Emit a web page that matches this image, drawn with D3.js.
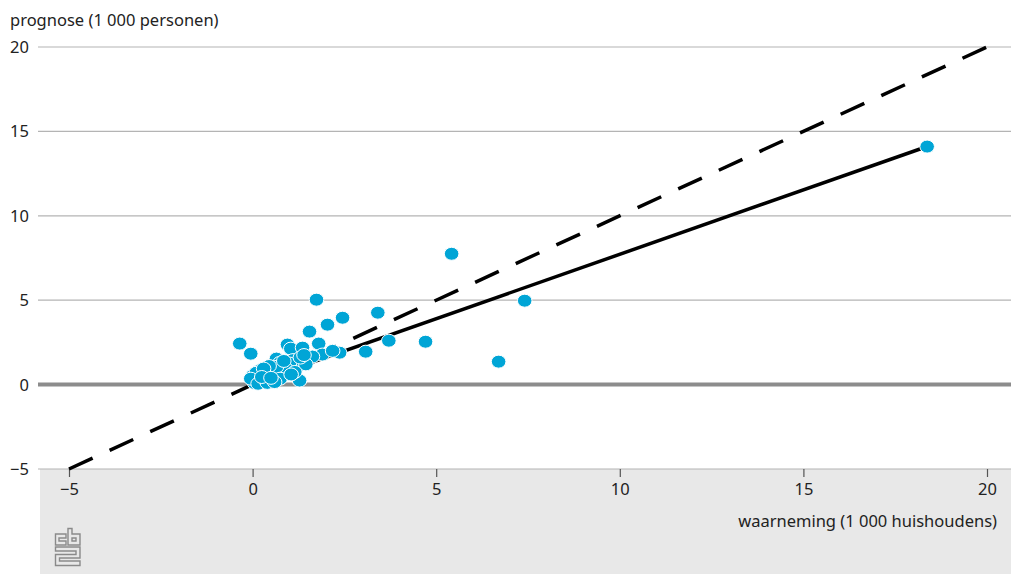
<!DOCTYPE html>
<html>
<head>
<meta charset="utf-8">
<script src="https://cdn.jsdelivr.net/npm/d3@7/dist/d3.min.js"></script>
<style>
  html, body { margin: 0; padding: 0; background: #fff; }
  svg { display: block; font-family: "Noto Sans", "DejaVu Sans", sans-serif; }
</style>
</head>
<body>
<svg id="chart" width="1011" height="574"></svg>
<script>
// Observed households (x, thousands) against projected persons (y, thousands)
const waarneming = [
  18.37, 5.42, 7.41, 6.70, 4.71, 3.71, 3.08, 3.41, 2.45, 1.74, 2.04, 1.55,
  -0.35, -0.05, 2.37, 0.95, 1.04, 1.36, 1.80, 1.90, 2.18, 1.63, 1.28, 0.65,
  0.98, 0.46, 0.00, 0.20, 0.35, 0.55, 0.75, 0.85, 1.10, 1.20, 1.45, 0.30,
  0.10, 0.40, 0.60, 0.80, 0.70, 1.00, 0.15, 0.25, 0.50, 0.90, 1.15, 1.30,
  0.05, 0.35, 0.65, 0.45, 0.20, 0.75, 1.40, 0.55, 0.10, 0.30, 1.05, 0.85,
  -0.05, 0.15, 0.40, 0.60, 0.25, 0.50
];
const prognose = [
  14.10, 7.75, 4.97, 1.36, 2.54, 2.60, 1.95, 4.26, 3.96, 5.03, 3.55, 3.14,
  2.43, 1.83, 1.89, 2.37, 2.13, 2.19, 2.43, 1.78, 2.00, 1.66, 0.24, 1.54,
  1.18, 0.30, 0.53, 0.20, 0.65, 0.90, 1.30, 0.70, 1.45, 1.00, 1.20, 0.45,
  0.35, 0.80, 0.40, 1.10, 0.55, 1.25, 0.60, 0.15, 0.25, 0.95, 0.75, 1.60,
  0.10, 0.50, 1.05, 1.10, 0.85, 0.35, 1.75, 0.20, 0.70, 0.95, 0.60, 1.40,
  0.35, 0.05, 0.10, 0.15, 0.45, 0.40
];

// Fitted trend line endpoints (x values) and its coefficients
const trendX = [0, 18.37];
const trendIntercept = 0.09;
const trendSlope = 0.763;

// Reference line y = x
const diagX = [-5, 20];

const xTicks = [-5, 0, 5, 10, 15, 20];
const yTicks = [-5, 0, 5, 10, 15, 20];
const yTitle = "prognose (1 000 personen)";
const xTitle = "waarneming (1 000 huishoudens)";

const svg = d3.select("#chart");
const H = 574;
const left = 38, right = 1011;
const fs = 16.5;

const x = d3.scaleLinear().domain([-5, 20]).range([69, 987]);
const y = d3.scaleLinear().domain([-5, 20]).range([469, 47]);
const fmt = d => d < 0 ? "\u2212" + Math.abs(d) : d;

// Grey footer panel under the plot
svg.append("rect")
  .attr("x", 40).attr("y", y(-5))
  .attr("width", right - 40).attr("height", H - y(-5))
  .attr("fill", "#e8e8e8");

// Horizontal gridlines
svg.append("g").selectAll("line")
  .data(yTicks.filter(d => d !== 0))
  .join("line")
  .attr("x1", left).attr("x2", right)
  .attr("y1", d => y(d)).attr("y2", d => y(d))
  .attr("stroke", "#b4b4b4").attr("stroke-width", 1.2);

// Zero baseline
svg.append("line")
  .attr("x1", left).attr("x2", right)
  .attr("y1", y(0)).attr("y2", y(0))
  .attr("stroke", "#8c8c8c").attr("stroke-width", 4);

// Y labels
svg.append("g").selectAll("text")
  .data(yTicks)
  .join("text")
  .attr("x", 29).attr("y", d => y(d) + 6)
  .attr("text-anchor", "end")
  .attr("font-size", fs).attr("fill", "#222")
  .text(fmt);

svg.append("text")
  .attr("x", 10).attr("y", 26)
  .attr("font-size", fs).attr("fill", "#222")
  .text(yTitle);

// X axis ticks and labels
const xAxis = d3.axisBottom(x)
  .tickValues(xTicks)
  .tickSize(8)
  .tickPadding(6)
  .tickFormat(fmt);
const gx = svg.append("g").attr("transform", `translate(0,${y(-5)})`).call(xAxis);
gx.select(".domain").remove();
gx.selectAll(".tick line").attr("stroke", "#555").attr("stroke-width", 1.2);
gx.selectAll(".tick text").attr("font-size", fs).attr("fill", "#222")
  .attr("font-family", "\"Noto Sans\", \"DejaVu Sans\", sans-serif");

svg.append("text")
  .attr("x", 997).attr("y", 527)
  .attr("text-anchor", "end")
  .attr("font-size", fs).attr("fill", "#222")
  .text(xTitle);

// Diagonal reference (dashed)
svg.append("line")
  .attr("x1", x(diagX[0])).attr("y1", y(diagX[0]))
  .attr("x2", x(diagX[1])).attr("y2", y(diagX[1]))
  .attr("stroke", "#000").attr("stroke-width", 3.5)
  .attr("stroke-dasharray", "26,18.7");

// Trend line (solid)
svg.append("line")
  .attr("x1", x(trendX[0])).attr("y1", y(trendIntercept + trendSlope * trendX[0]))
  .attr("x2", x(trendX[1])).attr("y2", y(trendIntercept + trendSlope * trendX[1]))
  .attr("stroke", "#000").attr("stroke-width", 3.5);

// Points
const pts = waarneming.map((v, i) => ({ x: v, y: prognose[i] }));
svg.append("g").selectAll("ellipse")
  .data(pts)
  .join("ellipse")
  .attr("cx", d => x(d.x)).attr("cy", d => y(d.y))
  .attr("rx", 7.3).attr("ry", 6.5)
  .attr("fill", "#00a5d6")
  .attr("stroke", "#fff").attr("stroke-width", 1);

// CBS logo
const logo = svg.append("g")
  .attr("transform", "translate(55,528)")
  .attr("fill", "none").attr("stroke", "#8a8a8a").attr("stroke-width", 1.4);
logo.append("path").attr("d", "M0.5,6 H11 V10 H4 V13 H11 V17 H0.5 Z");
logo.append("path").attr("d", "M13,0.5 H17 V6 H25 V17 H13 Z M17,10 V13 H21 V10 Z");
logo.append("path").attr("d", "M0.5,19 H25 V30 H4.5 V33 H25 V37.5 H0.5 V26.5 H21 V23 H0.5 Z");
</script>
</body>
</html>
